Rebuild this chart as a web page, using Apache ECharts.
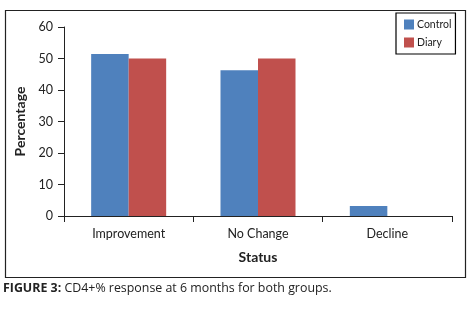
<!DOCTYPE html>
<html><head><meta charset="utf-8">
<script src="https://cdn.jsdelivr.net/npm/echarts@6/dist/echarts.min.js"></script>
<style>html,body{margin:0;padding:0;background:#fff}#c{width:468px;height:311px}</style>
</head><body><div id="c"></div>
<script>
const categories = ['Improvement', 'No Change', 'Decline'];
const controlValues = [51.4, 46.3, 3.2];
const diaryValues = [50.0, 50.0, 0];
const yTicks = [0, 10, 20, 30, 40, 50, 60];

const chart = echarts.init(document.getElementById('c'));
const font = 'Lato, "Open Sans", sans-serif';
chart.setOption({
  animation: false,
  textStyle: { fontFamily: font },
  grid: { left: 64, right: 16, top: 27, bottom: 95 },
  legend: {
    orient: 'vertical', left: 396, top: 13,
    data: ['Control', 'Diary'],
    itemWidth: 10, itemHeight: 10, itemGap: 7,
    borderColor: '#000', borderWidth: 1.2, padding: [6, 4, 6, 8],
    textStyle: { fontSize: 10.5, color: '#222', fontFamily: font, padding: [0, 0, 0, -2] },
    icon: 'rect'
  },
  xAxis: {
    type: 'category', data: categories,
    name: 'Status', nameLocation: 'middle', nameGap: 34,
    nameTextStyle: { fontWeight: 'bold', fontSize: 14, color: '#222' },
    axisLine: { lineStyle: { color: '#222', width: 1 } },
    axisTick: { show: true, length: 6, lineStyle: { color: '#222' } },
    axisLabel: { fontSize: 12.5, color: '#222', margin: 11 }
  },
  yAxis: {
    type: 'value', min: 0, max: 60, interval: 10,
    name: 'Percentage', nameLocation: 'middle', nameGap: 35, nameRotate: 90,
    nameTextStyle: { fontWeight: 'bold', fontSize: 14, color: '#222' },
    axisLine: { show: true, lineStyle: { color: '#222', width: 1 } },
    axisTick: { show: true, length: 6, lineStyle: { color: '#222' } },
    splitLine: { show: false },
    axisLabel: { fontSize: 12.5, color: '#222', margin: 11,
      formatter: v => yTicks.includes(v) ? String(v) : '' }
  },
  series: [
    { name: 'Control', type: 'bar', data: controlValues, barGap: '0%', barCategoryGap: '42%',
      itemStyle: { color: '#4F81BD' } },
    { name: 'Diary', type: 'bar', data: diaryValues, barGap: '0%', barCategoryGap: '42%',
      itemStyle: { color: '#C0504D' } }
  ],
  graphic: [
    { type: 'rect', left: 3, top: 8, shape: { width: 460, height: 267 },
      style: { fill: 'none', stroke: '#222', lineWidth: 1.2 }, silent: true, z: -1 },
    { type: 'text', left: 3, top: 282,
      style: { rich: { b: { fontWeight: 'bold', fontSize: 12.4, fontFamily: '"Open Sans", sans-serif', fill: '#222' },
                       n: { fontSize: 12.4, fontFamily: '"Open Sans", sans-serif', fill: '#222' } },
               text: '{b|FIGURE 3:}{n| CD4+% response at 6 months for both groups.}' } }
  ]
});
</script></body></html>
